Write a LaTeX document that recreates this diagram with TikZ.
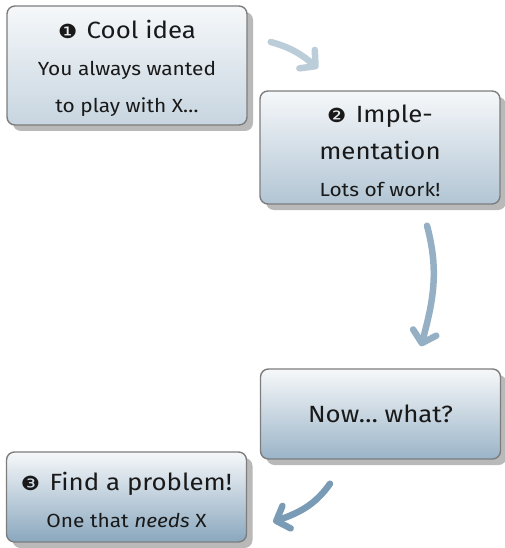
\documentclass[tikz,border=0pt]{standalone}
\usepackage{fontspec}
\setmainfont{Fira Sans}[FakeStretch=1.1]
\newfontfamily\dingfont{DejaVu Sans}[FakeStretch=1.1]
\usetikzlibrary{shadows,arrows.meta,calc}
\definecolor{steel}{RGB}{122,155,181}
\definecolor{edgegray}{RGB}{125,125,125}
\definecolor{ink}{RGB}{25,25,25}
\newcommand\bigline{\fontsize{23.5}{37}\selectfont}
\newcommand\boxtitle[2]{{\bigline\rule{0pt}{24pt}{\fontsize{19.5}{37}\dingfont #1}\hspace{0.4em}#2}}
\begin{document}
\begin{tikzpicture}[x=1pt,y=1pt,
  stagebox/.style={draw=edgegray, line width=1.4pt, rounded corners=8pt,
    minimum width=240pt, align=center, text=ink, inner sep=0pt,
    font=\fontsize{19}{37}\selectfont,
    top color=steel!7, bottom color=#1,
    drop shadow={shadow xshift=6pt, shadow yshift=-6pt, opacity=0.5, fill=black!55}},
  flow/.style={draw=#1, line width=6.5pt, line cap=round,
    -{Straight Barb[length=11pt,width=24pt,round]}}]
\useasboundingbox (0,0) rectangle (504,-548);
\node[stagebox=steel!42, minimum height=119pt] (b1) at (127,-65.5)
  {\boxtitle{❶}{Cool idea}\\You always wanted\\to play with X…};
\node[stagebox=steel!58, minimum height=113pt] (b2) at (380,-147.5)
  {\boxtitle{❷}{Imple-}\\{\bigline mentation}\\Lots of work!};
\node[stagebox=steel!75, minimum height=90pt] (b3) at (380.5,-414)
  {{\bigline Now… what?}};
\node[stagebox=steel!88, minimum height=90pt] (b4) at (126.5,-497)
  {\boxtitle{❸}{Find a problem!}\\One that \emph{needs} X};
\coordinate (a1s) at ($(b1.east)+(23,23.5)$);
\coordinate (a1e) at ($(b2.north)+(-62,22)$);
\coordinate (a2s) at ($(b2.south)+(47,-21)$);
\coordinate (a2e) at ($(b3.north)+(40.5,22)$);
\coordinate (a3s) at ($(b3.south)+(-50.5,-24)$);
\coordinate (a3e) at ($(b4.east)+(26,-25)$);
\draw[flow=steel!50] (a1s) to[out=-15,in=140] (a1e);
\draw[flow=steel!80] (a2s) to[out=-75,in=75] (a2e);
\draw[flow=steel] (a3s) to[out=-125,in=20] (a3e);
\end{tikzpicture}
\end{document}
